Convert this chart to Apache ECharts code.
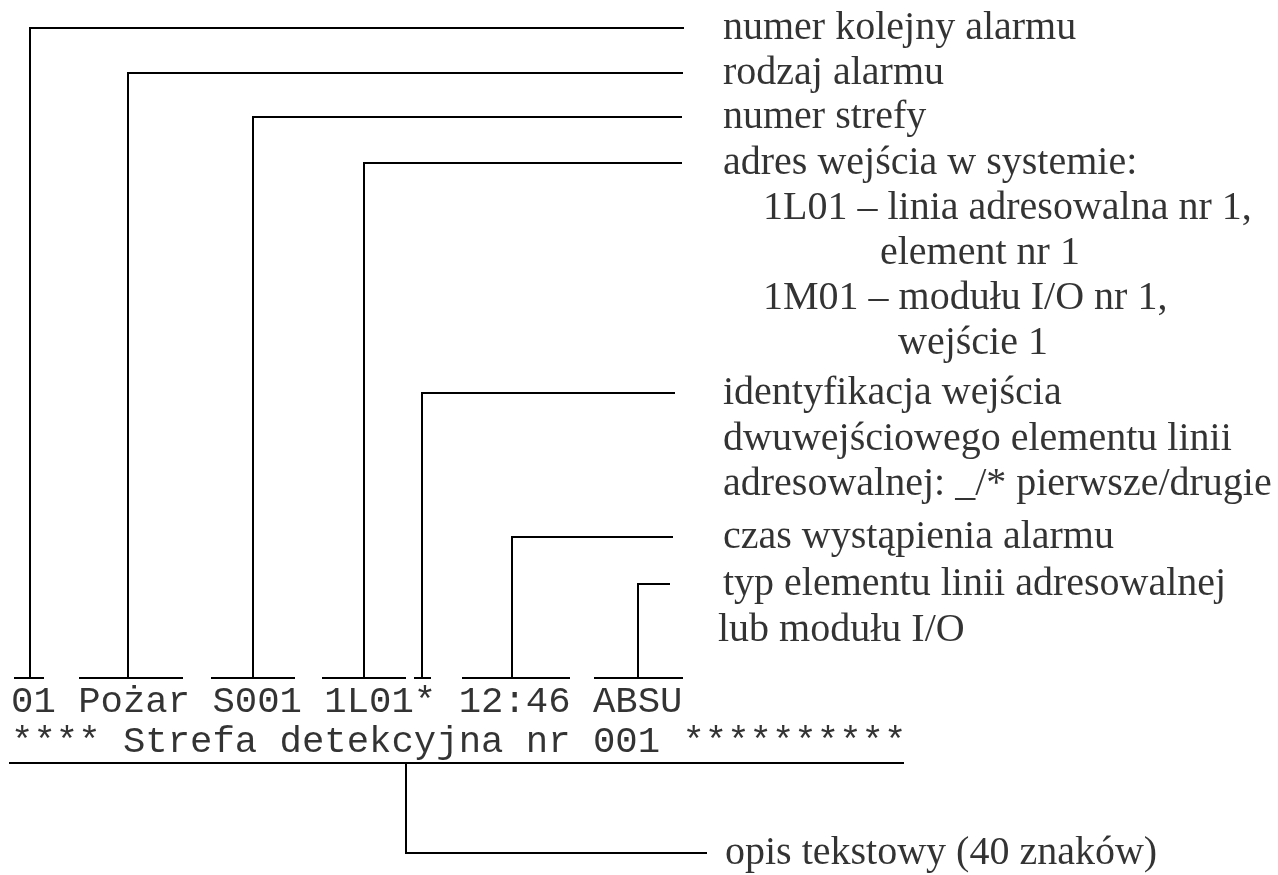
<!DOCTYPE html>
<html>
    <head>
        <meta charset="utf-8">
        <script src="https://cdn.jsdelivr.net/npm/echarts@6.0.0/dist/echarts.min.js"></script>
        <title>Format komunikatu alarmu</title>
        <style>
            html, body { margin: 0; padding: 0; background: #fff; }
            #main { width: 1278px; height: 875px; }
        </style>
    </head>
    <body>
        <div id="main"></div>
        <script type="text/javascript">
            // linie odniesienia: pion, załamanie, koniec poziomu
            var leaderX   = [30, 128, 253, 364, 422, 512, 638];
            var leaderY   = [28, 73, 117, 163, 393, 537, 584];
            var leaderEnd = [684, 683, 682, 682, 675, 673, 670];
            // podkreślenia pól nad wierszem komunikatu
            var fieldFrom = [14, 79, 211, 322, 414, 462, 594];
            var fieldTo   = [44, 183, 295, 406, 431, 570, 683];
            var fieldY = 678;

            // wiersze wyświetlacza
            var displayRows = ['01 Pożar S001 1L01* 12:46 ABSU', '**** Strefa detekcyjna nr 001 **********'];
            var displayY = [702, 742];

            // opis tekstowy (linia pod drugim wierszem)
            var underline = [[9, 763], [904, 763]];
            var descLeader = [[406, 763], [406, 853], [707, 853]];

            // objaśnienia
            var notes = [
                'numer kolejny alarmu',
                'rodzaj alarmu',
                'numer strefy',
                'adres wejścia w systemie:',
                '1L01 – linia adresowalna nr 1,',
                'element nr 1',
                '1M01 – modułu I/O nr 1,',
                'wejście 1',
                'identyfikacja wejścia',
                'dwuwejściowego elementu linii',
                'adresowalnej: _/* pierwsze/drugie',
                'czas wystąpienia alarmu',
                'typ elementu linii adresowalnej',
                'lub modułu I/O',
                'opis tekstowy (40 znaków)'
            ];
            var notesX = [723, 723, 723, 723, 763, 880, 763, 898, 723, 723, 723, 723, 723, 718, 725];
            var notesY = [28, 73, 117, 163, 208, 253, 298, 343, 393, 439, 484, 537, 584, 630, 853];

            var myChart = echarts.init(document.getElementById('main'));

            var lineData = [];
            for (var i = 0; i < leaderX.length; i++) {
                lineData.push({ coords: [[leaderEnd[i], leaderY[i]], [leaderX[i], leaderY[i]], [leaderX[i], fieldY]] });
                lineData.push({ coords: [[fieldFrom[i], fieldY], [fieldTo[i], fieldY]] });
            }
            lineData.push({ coords: underline });
            lineData.push({ coords: descLeader });

            var noteData = notes.map(function (t, i) {
                return [notesX[i], notesY[i], t];
            });
            var rowData = displayRows.map(function (t, i) {
                return [11, displayY[i], t];
            });

            var textLabel = function (family, size) {
                return {
                    show: true,
                    position: 'right',
                    distance: 0,
                    align: 'left',
                    verticalAlign: 'middle',
                    color: '#000',
                    fontFamily: family,
                    fontSize: size,
                    formatter: function (p) { return p.value[2]; }
                };
            };

            var option = {
                backgroundColor: '#fff',
                animation: false,
                grid: { left: 0, right: 0, top: 0, bottom: 0 },
                xAxis: { type: 'value', min: 0, max: 1278, show: false },
                yAxis: { type: 'value', min: 0, max: 875, inverse: true, show: false },
                series: [
                    {
                        type: 'lines',
                        coordinateSystem: 'cartesian2d',
                        polyline: true,
                        silent: true,
                        lineStyle: { color: '#000', width: 2, opacity: 1 },
                        data: lineData
                    },
                    {
                        type: 'scatter',
                        symbolSize: 0,
                        silent: true,
                        itemStyle: { color: 'transparent' },
                        label: textLabel('"Liberation Serif", "Times New Roman", serif', 40),
                        data: noteData
                    },
                    {
                        type: 'scatter',
                        symbolSize: 0,
                        silent: true,
                        itemStyle: { color: 'transparent' },
                        label: textLabel('"Liberation Mono", "Courier New", monospace', 37.3),
                        data: rowData
                    }
                ]
            };

            myChart.setOption(option);
        </script>
    </body>
</html>
